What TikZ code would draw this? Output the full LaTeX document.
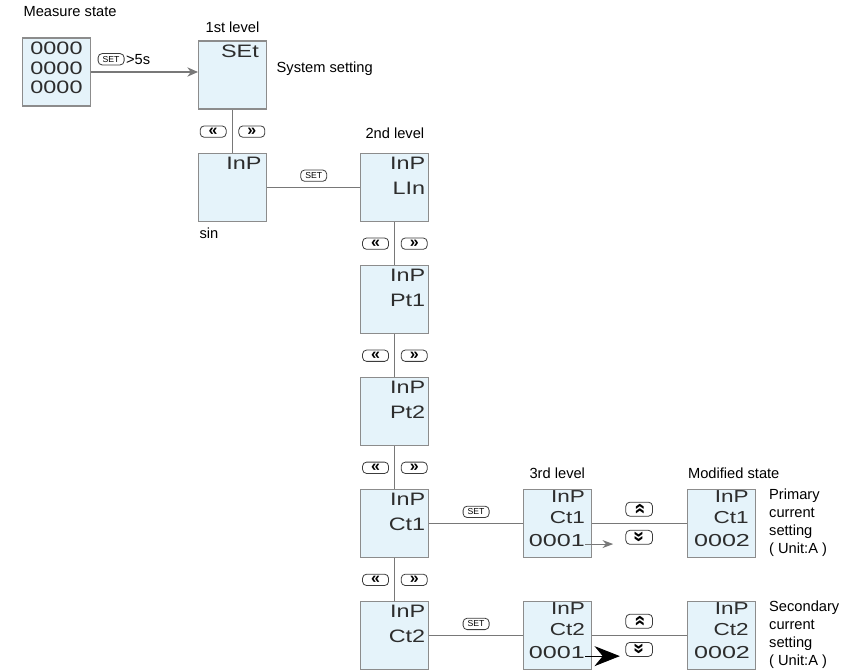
\documentclass[tikz,border=0pt]{standalone}
\usepackage{fontspec}
\setmainfont{Liberation Sans}
\newfontfamily\segfont[FakeStretch=1.3]{Liberation Sans}
\newfontfamily\digfont[FakeStretch=1.45]{Liberation Sans}
\usetikzlibrary{positioning,arrows.meta}

\definecolor{lcdfill}{RGB}{229,243,250}
\definecolor{lcdline}{RGB}{140,140,140}
\definecolor{wirecol}{RGB}{120,120,120}
\definecolor{segcol}{RGB}{45,45,45}
\definecolor{keyline}{RGB}{60,60,60}

\newcommand\chevup{\rotatebox{-90}{\bfseries «}}
\newcommand\chevdown{\rotatebox{90}{\bfseries «}}

\tikzset{
  lcd/.style={rectangle,draw=lcdline,fill=lcdfill,line width=0.8pt,
    minimum width=51pt,minimum height=51pt,inner sep=0pt},
  seg/.style={inner sep=0pt,text=segcol,align=right,anchor=north east,
    font=\segfont\fontsize{13.5}{19}\selectfont},
  seg3/.style={seg,font=\segfont\fontsize{13}{15.5}\selectfont},
  digits/.style={seg,anchor=south east,font=\digfont\fontsize{13}{15}\selectfont},
  lbl/.style={inner sep=1pt,font=\fontsize{11}{13.5}\selectfont},
  key/.style={rectangle,rounded corners=3pt,draw=keyline,fill=white,text=black,
    line width=0.6pt,minimum width=19.5pt,minimum height=8.5pt,inner sep=0pt,
    font=\fontsize{6.5}{6.5}\selectfont},
  chev/.style={key,font=\fontsize{12}{12}\selectfont},
  updown/.style={chev,minimum width=20pt,minimum height=10.5pt,
    font=\fontsize{15}{15}\selectfont},
  wire/.style={draw=wirecol,line width=0.8pt},
  arr/.style={wire,-{Stealth[length=8pt,width=7pt]}},
  bigarr/.style={draw=black,line width=0.7pt,-{Stealth[length=19pt,width=15pt]}}
}

\begin{document}
\begin{tikzpicture}[x=0.75pt,y=-0.75pt,node distance=32.25pt and 70pt]
  \useasboundingbox (0,0) rectangle (861,670);

  % measure state and 1st level
  \node[lcd] (measure) at (56.5,72) {};
  \node[lbl,anchor=west] (measuretxt) at (22,12) {Measure state};
  \node[seg3,anchor=center,align=center,font=\segfont\fontsize{13.5}{14.5}\selectfont]
    (measure-d) at ([yshift=3pt]measure) {0000\\0000\\0000};
  \node[lcd] (set) at (232.5,75) {};
  \node[seg] (set-d) at ([xshift=-6pt,yshift=-3.5pt]set.north east) {SEt};
  \node[lbl,above=5pt of set] (level1) {1st level};
  \node[lbl,right=6pt of set,yshift=5pt] (sysset) {System setting};
  \draw[arr] (measure) -- (measure -| set.west);
  \node[key,above right=5pt and 5pt of measure.east] (hold) {SET};
  \node[lbl,right=0pt of hold] (holdtxt) {>5s};

  % 2nd level
  \node[lcd,below=of set] (inp) {};
  \node[seg] (inp-d) at ([xshift=-4pt,yshift=-3pt]inp.north east) {InP};
  \node[lbl,below right=3.5pt and 0pt of inp.south west] (sin) {sin};
  \node[lcd,right=of inp] (lin) {};
  \node[seg] (lin-d) at ([xshift=-3pt,yshift=-3pt]lin.north east) {InP\\LIn};
  \node[lbl,above=9pt of lin] (level2) {2nd level};
  \node[lcd,below=of lin] (pt1) {};
  \node[seg] (pt1-d) at ([xshift=-3pt,yshift=-3pt]pt1.north east) {InP\\Pt1};
  \node[lcd,below=of pt1] (pt2) {};
  \node[seg] (pt2-d) at ([xshift=-3pt,yshift=-3pt]pt2.north east) {InP\\Pt2};
  \node[lcd,below=of pt2] (ct1) {};
  \node[seg] (ct1-d) at ([xshift=-3pt,yshift=-3pt]ct1.north east) {InP\\Ct1};
  \node[lcd,below=of ct1] (ct2) {};
  \node[seg] (ct2-d) at ([xshift=-3pt,yshift=-3pt]ct2.north east) {InP\\Ct2};
  \draw[wire] (inp) -- node[key,above=4pt] (inp-set) {SET} (lin);

  \foreach \a/\b in {set/inp,lin/pt1,pt1/pt2,pt2/ct1,ct1/ct2}{
    \draw[wire] (\a) -- (\b);
    \node[chev,below=12pt of \a.south,xshift=-14.5pt] (\a-prev) {\bfseries «};
    \node[chev,below=12pt of \a.south,xshift=14.5pt] (\a-next) {\bfseries »};
  }

  % 3rd level and modified state
  \node[lcd,right=of ct1] (ct1v) {};
  \node[seg3] (ct1v-d) at ([xshift=-5pt,yshift=-1.5pt]ct1v.north east) {InP\\Ct1};
  \node[digits] (ct1v-v) at ([xshift=-5pt,yshift=8pt]ct1v.south east) {0001};
  \node[lbl,above=6.5pt of ct1v] (level3) {3rd level};
  \node[lcd,right=71pt of ct1v] (ct1m) {};
  \node[seg3] (ct1m-d) at ([xshift=-5pt,yshift=-1.5pt]ct1m.north east) {InP\\Ct1};
  \node[digits] (ct1m-v) at ([xshift=-4pt,yshift=8pt]ct1m.south east) {0002};
  \node[lbl,above right=6.5pt and 0pt of ct1m.north west] (modified) {Modified state};
  \node[lbl,align=left,inner sep=0pt,right=10pt of ct1m.north east,anchor=north west]
    (ct1note) {Primary\\current\\setting\\( Unit:A )};
  \draw[wire] (ct1) -- node[key,above=4pt] (ct1-set) {SET} (ct1v);
  \draw[wire] (ct1v) -- node[updown,above=5pt] (ct1-up) {\chevup}
    node[updown,below=5pt] (ct1-down) {\chevdown} (ct1m);
  \coordinate[right=21pt of ct1v-v.east,yshift=-2.5pt] (ct1-tip);
  \draw[arr,-{Stealth[length=8pt,width=6pt]}] ([yshift=-2.5pt]ct1v-v.east) -- (ct1-tip);

  \node[lcd,right=of ct2] (ct2v) {};
  \node[seg3] (ct2v-d) at ([xshift=-5pt,yshift=-1.5pt]ct2v.north east) {InP\\Ct2};
  \node[digits] (ct2v-v) at ([xshift=-5pt,yshift=8pt]ct2v.south east) {0001};
  \node[lcd,right=71pt of ct2v] (ct2m) {};
  \node[seg3] (ct2m-d) at ([xshift=-5pt,yshift=-1.5pt]ct2m.north east) {InP\\Ct2};
  \node[digits] (ct2m-v) at ([xshift=-4pt,yshift=8pt]ct2m.south east) {0002};
  \node[lbl,align=left,inner sep=0pt,right=10pt of ct2m.north east,anchor=north west]
    (ct2note) {Secondary\\current\\setting\\( Unit:A )};
  \draw[wire] (ct2) -- node[key,above=4pt] (ct2-set) {SET} (ct2v);
  \draw[wire] (ct2v) -- node[updown,above=5pt] (ct2-up) {\chevup}
    node[updown,below=5pt] (ct2-down) {\chevdown} (ct2m);
  \coordinate[right=26pt of ct2v-v.east,yshift=-2.5pt] (ct2-tip);
  \draw[bigarr] ([yshift=-2.5pt]ct2v-v.east) -- (ct2-tip);
\end{tikzpicture}
\end{document}
